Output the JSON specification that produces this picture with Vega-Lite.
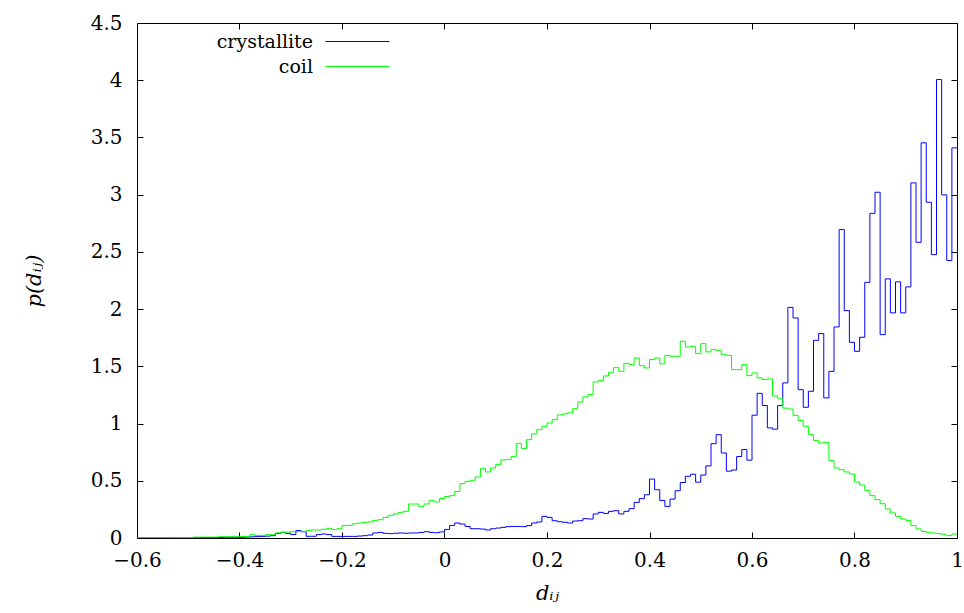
{
  "$schema": "https://vega.github.io/schema/vega-lite/v6.json",
  "width": 820,
  "height": 515,
  "autosize": {"type": "none"},
  "padding": {"left": 137, "top": 23, "right": 7, "bottom": 75},
  "background": "white",
  "config": {
    "view": {"stroke": "black", "strokeWidth": 1},
    "font": "DejaVu Serif",
    "axis": {"grid": false, "domain": false, "labelFlush": false, "labelFont": "DejaVu Serif", "labelFontSize": 20, "labelColor": "black", "titleFont": "DejaVu Serif", "titleFontSize": 21, "titleFontWeight": "normal", "titleFontStyle": "italic", "titleColor": "black", "tickColor": "black"}
  },
  "data": {"values": [
{"x":-0.60,"crystallite":0.002,"coil":0.003},{"x":-0.59,"crystallite":0.002,"coil":0.003},{"x":-0.58,"crystallite":0.002,"coil":0.003},{"x":-0.57,"crystallite":0.002,"coil":0.003},{"x":-0.56,"crystallite":0.002,"coil":0.003},{"x":-0.55,"crystallite":0.002,"coil":0.003},{"x":-0.54,"crystallite":0.002,"coil":0.005},{"x":-0.53,"crystallite":0.002,"coil":0.005},{"x":-0.52,"crystallite":0.002,"coil":0.005},{"x":-0.51,"crystallite":0.002,"coil":0.005},{"x":-0.50,"crystallite":0.002,"coil":0.005},{"x":-0.49,"crystallite":0.004,"coil":0.008},{"x":-0.48,"crystallite":0.004,"coil":0.008},{"x":-0.47,"crystallite":0.004,"coil":0.008},{"x":-0.46,"crystallite":0.004,"coil":0.008},{"x":-0.45,"crystallite":0.004,"coil":0.008},{"x":-0.44,"crystallite":0.004,"coil":0.011},{"x":-0.43,"crystallite":0.006,"coil":0.011},{"x":-0.42,"crystallite":0.006,"coil":0.011},{"x":-0.41,"crystallite":0.006,"coil":0.011},
{"x":-0.40,"crystallite":0.006,"coil":0.014},{"x":-0.39,"crystallite":0.008,"coil":0.014},{"x":-0.38,"crystallite":0.010,"coil":0.029},{"x":-0.37,"crystallite":0.012,"coil":0.023},{"x":-0.36,"crystallite":0.014,"coil":0.023},{"x":-0.35,"crystallite":0.016,"coil":0.029},{"x":-0.34,"crystallite":0.020,"coil":0.029},{"x":-0.33,"crystallite":0.040,"coil":0.044},{"x":-0.32,"crystallite":0.050,"coil":0.049},{"x":-0.31,"crystallite":0.040,"coil":0.052},
{"x":-0.30,"crystallite":0.030,"coil":0.055},{"x":-0.29,"crystallite":0.066,"coil":0.058},{"x":-0.28,"crystallite":0.055,"coil":0.058},{"x":-0.27,"crystallite":0.015,"coil":0.064},{"x":-0.26,"crystallite":0.015,"coil":0.070},{"x":-0.25,"crystallite":0.030,"coil":0.070},{"x":-0.24,"crystallite":0.035,"coil":0.076},{"x":-0.23,"crystallite":0.030,"coil":0.084},{"x":-0.22,"crystallite":0.014,"coil":0.073},{"x":-0.21,"crystallite":0.014,"coil":0.081},
{"x":-0.20,"crystallite":0.014,"coil":0.108},{"x":-0.19,"crystallite":0.014,"coil":0.111},{"x":-0.18,"crystallite":0.014,"coil":0.125},{"x":-0.17,"crystallite":0.017,"coil":0.131},{"x":-0.16,"crystallite":0.020,"coil":0.137},{"x":-0.15,"crystallite":0.026,"coil":0.140},{"x":-0.14,"crystallite":0.044,"coil":0.154},{"x":-0.13,"crystallite":0.049,"coil":0.160},{"x":-0.12,"crystallite":0.041,"coil":0.180},{"x":-0.11,"crystallite":0.038,"coil":0.198},
{"x":-0.10,"crystallite":0.041,"coil":0.210},{"x":-0.09,"crystallite":0.044,"coil":0.224},{"x":-0.08,"crystallite":0.041,"coil":0.233},{"x":-0.07,"crystallite":0.044,"coil":0.297},{"x":-0.06,"crystallite":0.044,"coil":0.297},{"x":-0.05,"crystallite":0.049,"coil":0.276},{"x":-0.04,"crystallite":0.055,"coil":0.297},{"x":-0.03,"crystallite":0.049,"coil":0.329},{"x":-0.02,"crystallite":0.046,"coil":0.315},{"x":-0.01,"crystallite":0.053,"coil":0.345},
{"x":0.00,"crystallite":0.075,"coil":0.362},{"x":0.01,"crystallite":0.110,"coil":0.370},{"x":0.02,"crystallite":0.131,"coil":0.407},{"x":0.03,"crystallite":0.122,"coil":0.475},{"x":0.04,"crystallite":0.101,"coil":0.495},{"x":0.05,"crystallite":0.081,"coil":0.504},{"x":0.06,"crystallite":0.081,"coil":0.533},{"x":0.07,"crystallite":0.078,"coil":0.606},{"x":0.08,"crystallite":0.070,"coil":0.577},{"x":0.09,"crystallite":0.081,"coil":0.612},
{"x":0.10,"crystallite":0.087,"coil":0.643},{"x":0.11,"crystallite":0.093,"coil":0.682},{"x":0.12,"crystallite":0.099,"coil":0.685},{"x":0.13,"crystallite":0.101,"coil":0.713},{"x":0.14,"crystallite":0.101,"coil":0.827},{"x":0.15,"crystallite":0.099,"coil":0.783},{"x":0.16,"crystallite":0.108,"coil":0.859},{"x":0.17,"crystallite":0.131,"coil":0.909},{"x":0.18,"crystallite":0.140,"coil":0.947},{"x":0.19,"crystallite":0.189,"coil":0.976},
{"x":0.20,"crystallite":0.180,"coil":1.005},{"x":0.21,"crystallite":0.151,"coil":1.034},{"x":0.22,"crystallite":0.142,"coil":1.075},{"x":0.23,"crystallite":0.137,"coil":1.084},{"x":0.24,"crystallite":0.131,"coil":1.093},{"x":0.25,"crystallite":0.148,"coil":1.130},{"x":0.26,"crystallite":0.151,"coil":1.189},{"x":0.27,"crystallite":0.169,"coil":1.233},{"x":0.28,"crystallite":0.166,"coil":1.253},{"x":0.29,"crystallite":0.210,"coil":1.364},
{"x":0.30,"crystallite":0.224,"coil":1.375},{"x":0.31,"crystallite":0.215,"coil":1.416},{"x":0.32,"crystallite":0.233,"coil":1.448},{"x":0.33,"crystallite":0.239,"coil":1.491},{"x":0.34,"crystallite":0.210,"coil":1.456},{"x":0.35,"crystallite":0.233,"coil":1.526},{"x":0.36,"crystallite":0.256,"coil":1.515},{"x":0.37,"crystallite":0.311,"coil":1.573},{"x":0.38,"crystallite":0.344,"coil":1.506},{"x":0.39,"crystallite":0.378,"coil":1.486},
{"x":0.40,"crystallite":0.515,"coil":1.559},{"x":0.41,"crystallite":0.422,"coil":1.573},{"x":0.42,"crystallite":0.328,"coil":1.522},{"x":0.43,"crystallite":0.276,"coil":1.596},{"x":0.44,"crystallite":0.340,"coil":1.588},{"x":0.45,"crystallite":0.413,"coil":1.588},{"x":0.46,"crystallite":0.485,"coil":1.719},{"x":0.47,"crystallite":0.539,"coil":1.669},{"x":0.48,"crystallite":0.557,"coil":1.675},{"x":0.49,"crystallite":0.488,"coil":1.611},
{"x":0.50,"crystallite":0.550,"coil":1.698},{"x":0.51,"crystallite":0.630,"coil":1.626},{"x":0.52,"crystallite":0.824,"coil":1.646},{"x":0.53,"crystallite":0.903,"coil":1.640},{"x":0.54,"crystallite":0.743,"coil":1.602},{"x":0.55,"crystallite":0.584,"coil":1.596},{"x":0.56,"crystallite":0.594,"coil":1.471},{"x":0.57,"crystallite":0.712,"coil":1.471},{"x":0.58,"crystallite":0.773,"coil":1.515},{"x":0.59,"crystallite":0.680,"coil":1.419},
{"x":0.60,"crystallite":1.073,"coil":1.442},{"x":0.61,"crystallite":1.264,"coil":1.399},{"x":0.62,"crystallite":1.158,"coil":1.384},{"x":0.63,"crystallite":0.962,"coil":1.390},{"x":0.64,"crystallite":0.951,"coil":1.241},{"x":0.65,"crystallite":1.157,"coil":1.216},{"x":0.66,"crystallite":1.355,"coil":1.135},{"x":0.67,"crystallite":2.015,"coil":1.127},{"x":0.68,"crystallite":1.923,"coil":1.072},{"x":0.69,"crystallite":1.296,"coil":1.027},
{"x":0.70,"crystallite":1.142,"coil":0.976},{"x":0.71,"crystallite":1.282,"coil":0.903},{"x":0.72,"crystallite":1.727,"coil":0.853},{"x":0.73,"crystallite":1.786,"coil":0.830},{"x":0.74,"crystallite":1.224,"coil":0.836},{"x":0.75,"crystallite":1.456,"coil":0.676},{"x":0.76,"crystallite":1.844,"coil":0.612},{"x":0.77,"crystallite":2.695,"coil":0.597},{"x":0.78,"crystallite":1.987,"coil":0.577},{"x":0.79,"crystallite":1.710,"coil":0.559},
{"x":0.80,"crystallite":1.631,"coil":0.489},{"x":0.81,"crystallite":1.754,"coil":0.463},{"x":0.82,"crystallite":2.234,"coil":0.416},{"x":0.83,"crystallite":2.837,"coil":0.370},{"x":0.84,"crystallite":3.021,"coil":0.335},{"x":0.85,"crystallite":1.777,"coil":0.300},{"x":0.86,"crystallite":2.264,"coil":0.253},{"x":0.87,"crystallite":1.967,"coil":0.219},{"x":0.88,"crystallite":2.238,"coil":0.189},{"x":0.89,"crystallite":1.967,"coil":0.166},
{"x":0.90,"crystallite":2.194,"coil":0.154},{"x":0.91,"crystallite":3.103,"coil":0.110},{"x":0.92,"crystallite":2.584,"coil":0.079},{"x":0.93,"crystallite":3.453,"coil":0.058},{"x":0.94,"crystallite":2.934,"coil":0.049},{"x":0.95,"crystallite":2.476,"coil":0.044},{"x":0.96,"crystallite":4.006,"coil":0.038},{"x":0.97,"crystallite":2.998,"coil":0.029},{"x":0.98,"crystallite":2.424,"coil":0.023},{"x":0.99,"crystallite":3.409,"coil":0.035},
{"x":1.00,"crystallite":3.409,"coil":0.035}
  ]},
  "transform": [{"fold": ["crystallite", "coil"], "as": ["series", "p"]}],
  "resolve": {"axis": {"x": "independent", "y": "independent"}},
  "layer": [
    {
      "mark": {"type": "line", "interpolate": "step-after", "strokeWidth": 1, "clip": true},
      "encoding": {
        "x": {"field": "x", "type": "quantitative", "scale": {"domain": [-0.6, 1], "nice": false, "zero": false},
              "axis": {"orient": "bottom", "values": [-0.6,-0.4,-0.2,0,0.2,0.4,0.6,0.8,1], "format": "~g", "ticks": false, "labelPadding": 12, "title": "dᵢⱼ", "titlePadding": 12}},
        "y": {"field": "p", "type": "quantitative", "scale": {"domain": [0, 4.5], "nice": false},
              "axis": {"orient": "left", "values": [0,0.5,1,1.5,2,2.5,3,3.5,4,4.5], "format": "~g", "ticks": false, "labelPadding": 15, "title": "p(dᵢⱼ)", "titlePadding": 46}},
        "color": {"field": "series", "type": "nominal",
                  "scale": {"domain": ["crystallite", "coil"], "range": ["#0000ff", "#00ff00"]},
                  "legend": {"orient": "none", "legendX": 211, "legendY": 9, "title": null, "symbolType": "M-4,0H4", "symbolSize": 256, "symbolStrokeWidth": 1, "symbolFillColor": "transparent", "labelFont": "DejaVu Serif", "labelFontSize": 19, "labelColor": "black", "labelAlign": "right", "labelOffset": -54, "rowPadding": 5, "padding": 0}}
      }
    },
    {
      "mark": {"type": "line", "interpolate": "step-after", "opacity": 0},
      "encoding": {
        "x": {"field": "x", "type": "quantitative", "axis": {"orient": "bottom", "offset": -6, "tickSize": 6, "labels": false, "title": null, "values": [-0.6,-0.4,-0.2,0,0.2,0.4,0.6,0.8,1]}},
        "y": {"field": "p", "type": "quantitative", "axis": {"orient": "left", "offset": -6, "tickSize": 6, "labels": false, "title": null, "values": [0,0.5,1,1.5,2,2.5,3,3.5,4,4.5]}},
        "detail": {"field": "series"}
      }
    },
    {
      "mark": {"type": "line", "interpolate": "step-after", "opacity": 0},
      "encoding": {
        "x": {"field": "x", "type": "quantitative", "axis": {"orient": "top", "offset": -6, "tickSize": 6, "labels": false, "title": null, "values": [-0.6,-0.4,-0.2,0,0.2,0.4,0.6,0.8,1]}},
        "y": {"field": "p", "type": "quantitative", "axis": {"orient": "right", "offset": -6, "tickSize": 6, "labels": false, "title": null, "values": [0,0.5,1,1.5,2,2.5,3,3.5,4,4.5]}},
        "detail": {"field": "series"}
      }
    }
  ]
}
